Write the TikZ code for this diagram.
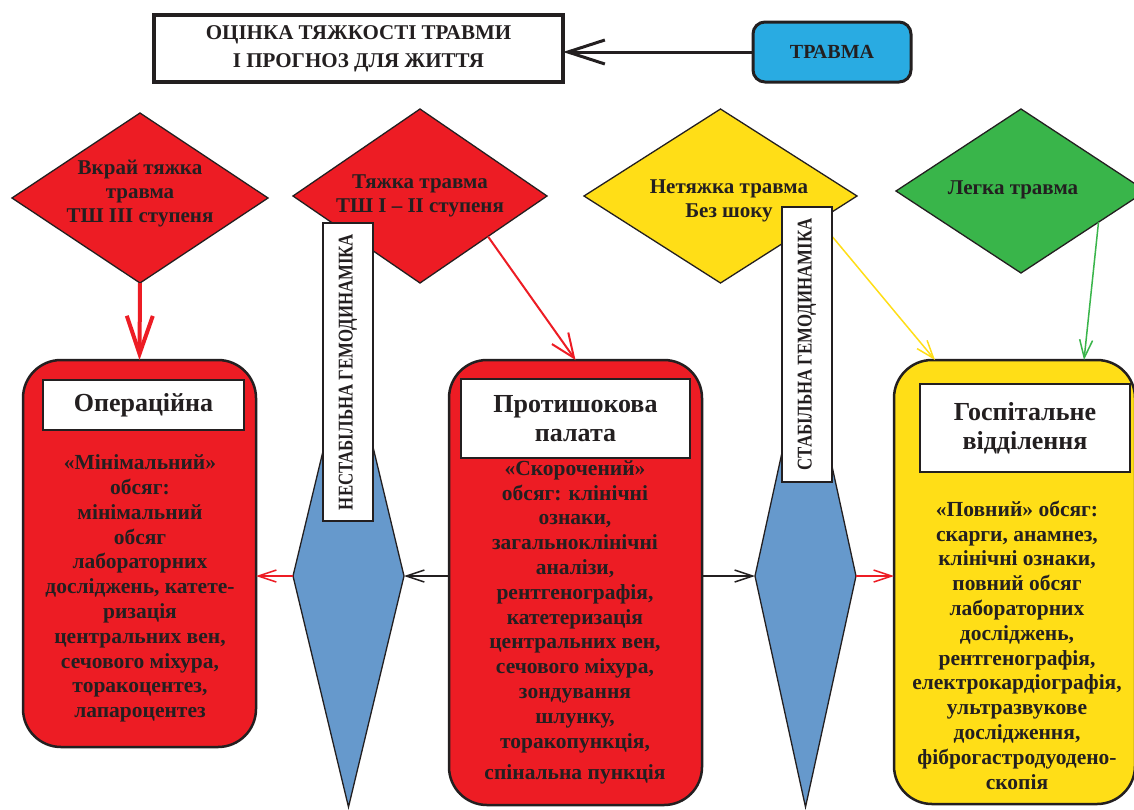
\documentclass[tikz,border=0pt]{standalone}
\usepackage{fontspec}
\setmainfont{Liberation Serif}
\usetikzlibrary{shapes.geometric,arrows.meta,calc}
\definecolor{ink}{HTML}{231F20}
\definecolor{tred}{HTML}{ED1C24}
\definecolor{tyel}{HTML}{FFDE17}
\definecolor{tgrn}{HTML}{39B54A}
\definecolor{tblue}{HTML}{6699CC}
\definecolor{tsky}{HTML}{29ABE2}
\newcommand\fDia{\fontsize{21}{24}\selectfont\bfseries}
\newcommand\fBody{\fontsize{21.5}{24.8}\selectfont\bfseries}
\newcommand\fHead{\fontsize{26}{29}\selectfont\bfseries}
\newcommand\fTitle{\fontsize{21}{28}\selectfont\bfseries}
\newcommand\fVert{\fontsize{21}{24}\selectfont\bfseries}
\begin{document}
\begin{tikzpicture}[x=1pt,y=-1pt,
  every node/.style={inner sep=0pt,outer sep=0pt},
  diabox/.style={diamond,draw=ink,line width=1.3pt},
  bigbox/.style={rectangle,rounded corners=38pt,draw=ink,line width=2.5pt},
  headbox/.style={rectangle,draw=ink,line width=2.5pt,fill=white,align=center,text=ink,font=\fHead},
  vlabel/.style={rectangle,draw=ink,line width=2pt,fill=white,text=ink,font=\fVert,rotate=90,minimum height=50pt},
  bodytext/.style={text=ink,align=center,font=\fBody},
  diatext/.style={text=ink,align=center,font=\fDia},
  arrBig/.style={-{Straight Barb[length=37pt,width=24pt,line width=3pt]},line width=3pt},
  arrThick/.style={-{Straight Barb[length=38pt,width=26pt,line width=4pt]},line width=4pt},
  arrMid/.style={-{Straight Barb[length=24pt,width=20pt,line width=2pt]},line width=2pt},
  arrThin/.style={-{Straight Barb[length=18pt,width=13pt,line width=1.5pt]},line width=1.5pt},
  arrSmall/.style={-{Straight Barb[length=18pt,width=12pt,line width=1.5pt]},line width=1.5pt}
]
\useasboundingbox (0,0) rectangle (1134,809);
\fill[white] (0,0) rectangle (1134,809);

% top row
\node[rectangle,draw=ink,line width=4pt,fill=white,minimum width=409pt,minimum height=67pt,
      align=center,text=ink,font=\fTitle] (title) at (358.5,48.5)
      {ОЦІНКА ТЯЖКОСТІ ТРАВМИ\\І ПРОГНОЗ ДЛЯ ЖИТТЯ};
\node[rectangle,rounded corners=12pt,draw=ink,line width=3pt,fill=tsky,minimum width=158pt,
      minimum height=60pt,text=ink,font=\fontsize{20}{24}\selectfont\bfseries] (tr) at (832,52) {ТРАВМА};
\draw[arrBig,ink] (tr.west) -- (tr.west -| title.east);

% diamonds
\node[diabox,fill=tred,minimum width=256pt,minimum height=170pt] (d1) at (140,198) {};
\node[diabox,fill=tred,minimum width=254pt,minimum height=174pt] (d2) at (420,196) {};
\node[diabox,fill=tyel,minimum width=273pt,minimum height=174pt] (d3) at (720.5,196) {};
\node[diabox,fill=tgrn,minimum width=250pt,minimum height=164pt] (d4) at (1021,191) {};
\node[diatext] (t1) at (140,194) {Вкрай тяжка\\травма\\ТШ III ступеня};
\node[diatext] (t2) at (420,196) {Тяжка травма\\ТШ I – II ступеня};
\node[diatext] (t3) at (729,201) {Нетяжка травма\\Без шоку};
\node[diatext] (t4) at (1013,190) {Легка травма};

% blue diamonds
\node[diabox,fill=tblue,minimum width=111pt,minimum height=462pt] (b1) at (348.5,576) {};
\node[diabox,fill=tblue,minimum width=101pt,minimum height=462pt] (b2) at (805.5,576) {};

% big boxes
\node[bigbox,fill=tred,minimum width=233pt,minimum height=387pt] (op) at (139.5,553.5) {};
\node[bigbox,fill=tred,minimum width=253pt,minimum height=445pt] (pr) at (575.5,582.5) {};
\node[bigbox,fill=tyel,minimum width=241pt,minimum height=444pt] (ho) at (1014.5,582) {};

\node[headbox,minimum width=201pt,minimum height=50pt] (oph) at (143.5,405) {Операційна};
\node[headbox,minimum width=229pt,minimum height=79pt] (prh) at (575.5,418.5) {Протишокова\\палата};
\node[headbox,minimum width=210pt,minimum height=88pt] (hoh) at (1025,428) {Госпітальне\\відділення};

\node[bodytext] (opt) at (140,588.5) {«Мінімальний»\\обсяг:\\мінімальний\\обсяг\\лабораторних\\досліджень, катете-\\ризація\\центральних вен,\\сечового міхура,\\торакоцентез,\\лапароцентез};
\node[bodytext] (prt) at (575,622.5) {«Скорочений»\\обсяг: клінічні\\ознаки,\\загальноклінічні\\аналізи,\\рентгенографія,\\катетеризація\\центральних вен,\\сечового міхура,\\зондування\\шлунку,\\торакопункція,\\[7pt]спінальна пункція};
\node[bodytext] (hot) at (1017,645) {«Повний» обсяг:\\скарги, анамнез,\\клінічні ознаки,\\повний обсяг\\лабораторних\\досліджень,\\рентгенографія,\\електрокардіографія,\\ультразвукове\\дослідження,\\фіброгастродуодено-\\скопія};

% connectors
\draw[arrThick,tred] (d1.south) -- (op.north);
\draw[arrMid,tred] ($(d2.east)!0.465!(d2.south)$) -- (pr.north);
\draw[arrThin,tyel] ($(d3.east)!0.28!(d3.south)$) -- ($(ho.north west)+(41,0)$);
\draw[arrThin,tgrn] ($(d4.east)!0.38!(d4.south)$) -- ($(ho.north)+(69.5,0)$);
\draw[arrSmall,tred] (b1.west) -- (b1.west -| op.east);
\draw[arrSmall,ink] (b1.east -| pr.west) -- (b1.east);
\draw[arrSmall,ink] (b2.west -| pr.east) -- (b2.west);
\draw[arrSmall,tred] (b2.east) -- (b2.east -| ho.west);

% vertical labels
\node[vlabel,minimum width=298pt] (l1) at (348,372) {\scalebox{0.8}[1]{НЕСТАБІЛЬНА ГЕМОДИНАМІКА}};
\node[vlabel,minimum width=275pt] (l2) at (807,344.5) {\scalebox{0.8}[1]{СТАБІЛЬНА ГЕМОДИНАМІКА}};
\end{tikzpicture}
\end{document}
